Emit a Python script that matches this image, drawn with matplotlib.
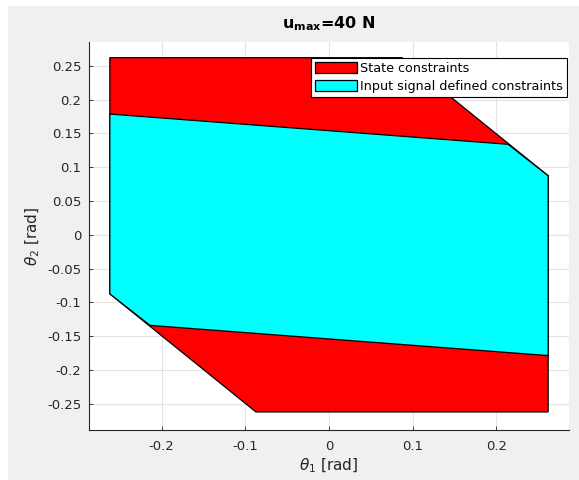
import numpy as np
import matplotlib
matplotlib.use("Agg")
import matplotlib.pyplot as plt
from matplotlib.patches import Polygon, Rectangle

# State constraints (theta1, theta2) in rad
state_theta1 = [-0.2618, 0.0873, 0.2618, 0.2618, -0.0873, -0.2618]
state_theta2 = [0.2618, 0.2618, 0.0873, -0.2618, -0.2618, -0.0873]

# Input signal defined constraints
input_theta1 = [-0.2618, 0.2139, 0.2618, 0.2618, -0.2139, -0.2618]
input_theta2 = [0.1785, 0.1338, 0.0873, -0.1785, -0.1338, -0.0873]

x_ticks = [-0.2, -0.1, 0, 0.1, 0.2]
x_ticklabels = ["-0.2", "-0.1", "0", "0.1", "0.2"]
y_ticks = [-0.25, -0.2, -0.15, -0.1, -0.05, 0, 0.05, 0.1, 0.15, 0.2, 0.25]
y_ticklabels = ["-0.25", "-0.2", "-0.15", "-0.1", "-0.05", "0",
                "0.05", "0.1", "0.15", "0.2", "0.25"]

plt.rcParams['font.family'] = ['DejaVu Sans']
plt.rcParams['axes.unicode_minus'] = False
txt = '#262626'

fig = plt.figure(figsize=(5.79, 4.80), dpi=100, facecolor='white')
# grey figure area (screenshot has a thin white margin top/left)
fig.patches.append(Rectangle((8 / 579, 0), 1, 474 / 480, transform=fig.transFigure,
                             facecolor='#f0f0f0', edgecolor='none', zorder=-10))

ax = fig.add_axes([89 / 579, 50 / 480, 480 / 579, 388 / 480])
ax.set_facecolor('white')

red = Polygon(np.column_stack([state_theta1, state_theta2]), closed=True,
              facecolor='#ff0000', edgecolor='black', linewidth=0.9,
              label='State constraints', zorder=2)
cyan = Polygon(np.column_stack([input_theta1, input_theta2]), closed=True,
               facecolor='#00ffff', edgecolor='black', linewidth=0.9,
               label='Input signal defined constraints', zorder=3)
ax.add_patch(red)
ax.add_patch(cyan)

ax.set_xlim(-0.2867, 0.2867)
ax.set_ylim(-0.2885, 0.2850)
ax.set_xticks(x_ticks, x_ticklabels)
ax.set_yticks(y_ticks, y_ticklabels)
ax.tick_params(direction='in', length=3, width=0.6, colors=txt, labelsize=9.5,
               top=False, right=False)
ax.tick_params(axis='x', pad=7)
ax.tick_params(axis='y', pad=5.5)
ax.grid(True, color='#e3e3e3', linewidth=0.8, zorder=0)
ax.set_axisbelow(True)
for side in ['top', 'right']:
    ax.spines[side].set_visible(False)
for side in ['left', 'bottom']:
    ax.spines[side].set_color(txt)
    ax.spines[side].set_linewidth(0.8)

ax.set_xlabel(r'$\theta_1$ [rad]', fontsize=11, color=txt, labelpad=3)
ax.set_ylabel(r'$\theta_2$ [rad]', fontsize=11, color=txt, labelpad=4)
ax.set_title(r'$\mathbf{u}_{\mathbf{max}}$=40 N', fontsize=11.5, fontweight='bold',
             color='black', pad=10)

leg = ax.legend(loc='upper right', bbox_to_anchor=(0.995, 0.958), borderaxespad=0,
                fontsize=9.2, fancybox=False, framealpha=1, edgecolor='black',
                handlelength=3.3, handleheight=0.95, handletextpad=0.2,
                borderpad=0.3, labelspacing=0.4)
leg.get_frame().set_linewidth(0.8)
leg.set_zorder(5)

fig.savefig('out.png', dpi=100, facecolor=fig.get_facecolor())
